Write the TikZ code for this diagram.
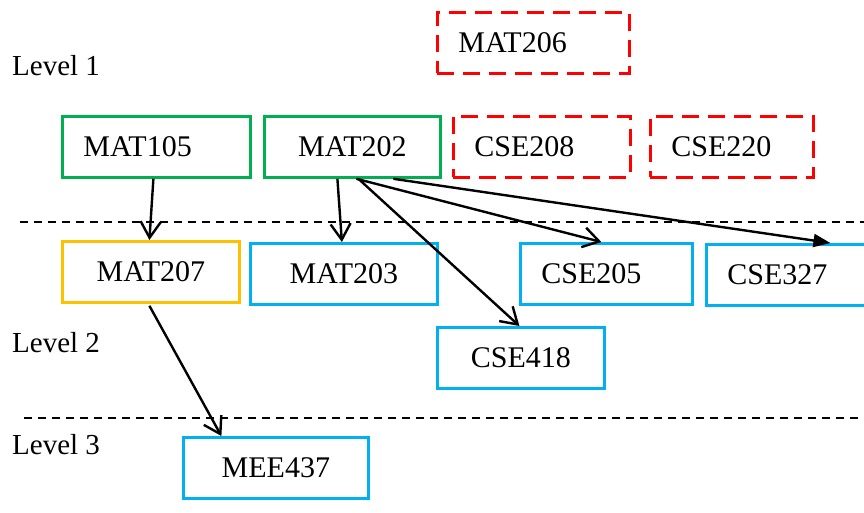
\documentclass[tikz,border=0pt]{standalone}
\usepackage{fontspec}
\setmainfont{Liberation Serif}
\usetikzlibrary{arrows.meta,calc}

\definecolor{coregreen}{RGB}{0,176,80}
\definecolor{midgold}{RGB}{255,192,0}
\definecolor{reqblue}{RGB}{0,176,240}
\definecolor{optred}{RGB}{255,0,0}

\tikzset{
  course/.style={draw, rectangle, line width=2.8pt, anchor=north west,
    inner xsep=21pt, inner ysep=0pt, minimum height=61pt,
    font=\fontsize{30}{35}\selectfont},
  greenbox/.style={course, draw=coregreen},
  goldbox/.style={course, draw=midgold},
  bluebox/.style={course, draw=reqblue},
  redbox/.style={course, draw=optred, dash pattern=on 17pt off 9pt},
  levellabel/.style={anchor=base west, inner sep=0pt, font=\fontsize{29}{34}\selectfont},
  levelline/.style={line width=1.8pt, dash pattern=on 8pt off 6pt},
  prereq/.style={line width=2.4pt, -{Straight Barb[length=16pt,width=20pt,line width=2.4pt]}},
  prereqfill/.style={line width=2.4pt, -{Triangle[length=17pt,width=13pt]}}
}

\begin{document}
\begin{tikzpicture}[x=1pt,y=-1pt]
  \clip (0,0) rectangle (864,513);

  % level separators
  \coordinate (sepA1) at (20,222);
  \coordinate (sepA2) at (864,222);
  \coordinate (sepB1) at (24,418);
  \coordinate (sepB2) at (864,418);
  \draw[levelline] (sepA1) -- (sepA2);
  \draw[levelline] (sepB1) -- (sepB2);

  % level labels
  \node[levellabel] (lv1) at (12,76) {Level 1};
  \node[levellabel] (lv2) at (12,352) {Level 2};
  \node[levellabel] (lv3) at (12,454) {Level 3};

  % level 1 courses
  \node[redbox, text width=150pt, align=left] (MAT206) at (436,11) {MAT206};
  \node[greenbox, text width=146pt, align=left] (MAT105) at (61,115) {MAT105};
  \node[greenbox, text width=134pt, align=center] (MAT202) at (263,115) {MAT202};
  \node[redbox, text width=135pt, align=left] (CSE208) at (452,115) {CSE208};
  \node[redbox, text width=121pt, align=left] (CSE220) at (649,115) {CSE220};

  % level 2 courses
  \node[goldbox, text width=135pt, align=center] (MAT207) at (61,240) {MAT207};
  \node[bluebox, text width=145pt, align=center] (MAT203) at (249,242) {MAT203};
  \node[bluebox, text width=130pt, align=left] (CSE205) at (519,242) {CSE205};
  \node[bluebox, text width=128pt, align=left] (CSE327) at (705,243) {CSE327};
  \node[bluebox, text width=125pt, align=center] (CSE418) at (436,326) {CSE418};

  % level 3 courses
  \node[bluebox, text width=143pt, align=center] (MEE437) at (182,436) {MEE437};

  % prerequisite links
  \draw[prereq] ([xshift=-3pt]MAT105.south) -- ([xshift=-1.5pt]MAT207.north);
  \draw[prereq] ([xshift=-15pt]MAT202.south) -- ([xshift=-2pt]MAT203.north);
  \draw[prereq] ([xshift=4pt]MAT202.south) -- ([xshift=-5pt]CSE205.north);
  \draw[prereq] ([xshift=6pt]MAT202.south) -- ([xshift=-1.5pt]CSE418.north);
  \draw[prereqfill] ([xshift=41pt]MAT202.south) -- ([xshift=39pt]CSE327.north);
  \draw[prereq] ([xshift=-1.5pt,yshift=-2pt]MAT207.south) -- ([xshift=-54.5pt]MEE437.north);
\end{tikzpicture}
\end{document}
